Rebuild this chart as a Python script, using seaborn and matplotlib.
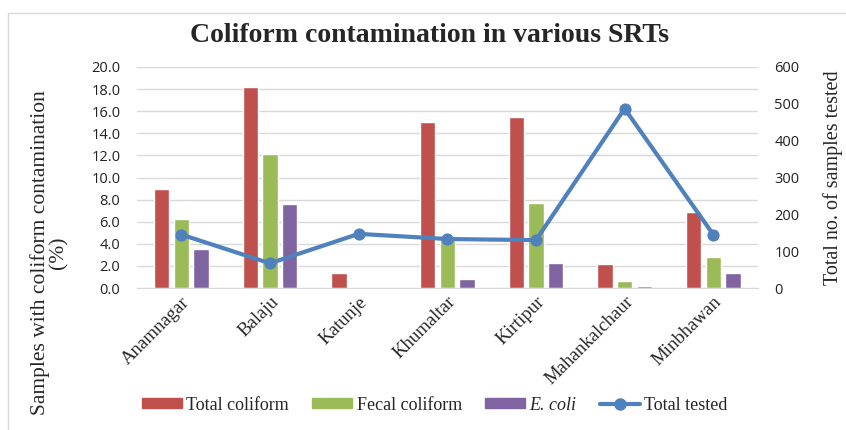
import pandas as pd
import seaborn as sns
import matplotlib.pyplot as plt
from matplotlib.patches import Patch, Rectangle
from matplotlib.lines import Line2D

sites = ['Anamnagar', 'Balaju', 'Katunje', 'Khumaltar', 'Kirtipur', 'Mahankalchaur', 'Minbhawan']
total_coliform = [9.0, 18.2, 1.4, 15.0, 15.5, 2.2, 6.9]
fecal_coliform = [6.2, 12.1, 0.0, 4.5, 7.7, 0.6, 2.8]
e_coli = [3.5, 7.6, 0.0, 0.8, 2.3, 0.2, 1.4]
total_tested = [145, 67, 147, 133, 130, 487, 145]

series = ['Total coliform', 'Fecal coliform', 'E. coli']
colors = ['#C0504D', '#9BBB59', '#8064A2']
line_color = '#4F81BD'

df = pd.DataFrame({'Site': sites, 'Total coliform': total_coliform,
                   'Fecal coliform': fecal_coliform, 'E. coli': e_coli})
long = df.melt(id_vars='Site', var_name='Type', value_name='Percent')
tested = pd.DataFrame({'x': range(len(sites)), 'Tested': total_tested})

sns.set_style('white')
serif = ['Liberation Serif', 'DejaVu Serif']
sans = ['Open Sans', 'DejaVu Sans']
plt.rcParams['font.family'] = sans

fig = plt.figure(figsize=(8.46, 4.30), dpi=100)
ax = fig.add_axes([137 / 846, 1 - 288 / 430, 620.6 / 846, 221 / 430])

# clustered bars (left axis, %)
sns.barplot(data=long, x='Site', y='Percent', hue='Type', hue_order=series,
            palette=colors, width=0.663, gap=0.22, saturation=1, ax=ax,
            legend=False, errorbar=None)
ax.set_ylim(0, 20)
ax.set_yticks([i * 2 for i in range(11)])
ax.set_yticklabels([f'{i * 2:.1f}' for i in range(11)], fontsize=10.5, color='#222222')
ax.yaxis.grid(True, color='#d9d9d9', linewidth=1)
ax.set_axisbelow(True)
ax.set_xlim(-0.5, len(sites) - 0.5)
for s in ax.spines.values():
    s.set_visible(False)
ax.spines['bottom'].set_visible(True)
ax.spines['bottom'].set_color('#d9d9d9')
ax.tick_params(axis='both', length=0)
ax.tick_params(axis='y', pad=12)
ax.tick_params(axis='x', pad=4)
ax.set_xlabel('')
ax.set_xticks(range(len(sites)))
ax.set_xticklabels(sites, rotation=45, ha='right', rotation_mode='anchor',
                   fontsize=13.5, family=serif)
ax.set_ylabel('Samples with coliform contamination\n(%)', family=serif, fontsize=15.5,
              linespacing=0.95)
ax.yaxis.set_label_coords(-0.11, 0.16)

# total tested line (right axis)
ax2 = ax.twinx()
sns.lineplot(data=tested, x='x', y='Tested', color=line_color, linewidth=3,
             marker='o', markersize=8, markeredgecolor=line_color, ax=ax2)
ax2.set_ylim(0, 600)
ax2.set_yticks(range(0, 601, 100))
ax2.set_yticklabels([str(v) for v in range(0, 601, 100)], fontsize=10.5, color='#222222')
ax2.tick_params(axis='y', length=0, pad=12)
for s in ax2.spines.values():
    s.set_visible(False)
ax2.set_ylabel('Total no. of samples tested', family=serif, fontsize=14.5, labelpad=17)
ax2.set_xlim(-0.5, len(sites) - 0.5)

fig.text(0.508, 0.918, 'Coliform contamination in various SRTs', ha='center', va='center',
         fontsize=20, fontweight='bold', family=serif)

handles = [Patch(color=c) for c in colors]
handles.append(Line2D([0], [0], color=line_color, linewidth=3, marker='o', markersize=8))
labels = ['Total coliform', 'Fecal coliform', 'E. coli', 'Total tested']
leg = fig.legend(handles, labels, loc='center', bbox_to_anchor=(0.514, 0.058), ncol=4,
                 frameon=False, prop={'family': serif, 'size': 13}, handlelength=2.2,
                 handleheight=0.5, columnspacing=1.3, handletextpad=0.25)
leg.get_texts()[2].set_fontstyle('italic')

fig.patches.append(Rectangle((8 / 846, -0.1), 1.2, 1 - 13 / 430 + 0.1,
                             transform=fig.transFigure, fill=False,
                             edgecolor='#d9d9d9', linewidth=1))

fig.savefig('out.png', dpi=100)
